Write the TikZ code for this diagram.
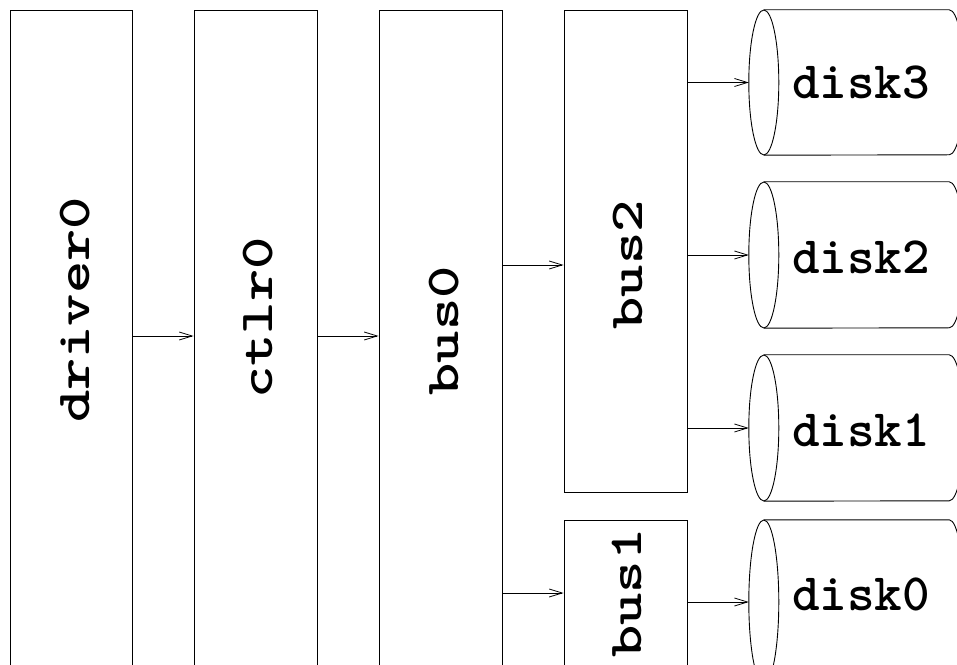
\documentclass[tikz,border=0pt]{standalone}
\usepackage{fontspec}
\usepackage{graphicx}
\usetikzlibrary{arrows.meta}
\newcommand\drawdisk[2]{%
  \draw[outline] (#1.north west) -- (#1.north east)
    arc[start angle=90, end angle=-90, x radius=15pt, y radius=#2pt] -- (#1.south west);
  \draw[outline] (#1.west) ellipse [x radius=15pt, y radius=#2pt];
}
\newcommand\heavytt{\fontsize{52.5}{52.5}\selectfont\ttfamily\bfseries\addfontfeature{FakeBold=1.2}}
\begin{document}
\begin{tikzpicture}[x=1pt,y=1pt,
  outline/.style={line width=0.9pt, black},
  box/.style={draw, outline, rectangle, inner sep=0pt, minimum width=123pt},
  body/.style={rectangle, inner sep=0pt, minimum width=185pt},
  vlabel/.style={rotate=90, inner sep=0pt, font=\heavytt},
  dlabel/.style={inner sep=0pt, font=\heavytt},
  arr/.style={line width=0.8pt, -{Straight Barb[length=13pt,width=8pt,line width=0.8pt]}}
]
\useasboundingbox (0,0) rectangle (957,664);
\clip (0,0) rectangle (957,664);

% boxes
\node[box, minimum width=122pt, minimum height=710pt] (driver0) at (71,299) {};
\node[box, minimum height=710pt] (ctlr0) at (255.5,299) {};
\node[box, minimum height=710pt] (bus0) at (440.5,299) {};
\node[box, minimum height=482pt] (bus2) at (625.5,413) {};
\node[box, minimum height=200pt] (bus1) at (625.5,44) {};

% box labels
\node[vlabel] (driver0-t) at (75,354) {\scalebox{1.17}[0.9]{driver0}};
\node[vlabel] (ctlr0-t) at (258,346) {\scalebox{1.17}[0.9]{ctlr0}};
\node[vlabel] (bus0-t) at (444,333) {\scalebox{1.17}[0.9]{bus0}};
\node[vlabel] (bus2-t) at (628,399) {\scalebox{1.17}[0.9]{bus2}};
\node[vlabel] (bus1-t) at (627,71) {\scalebox{1.17}[0.9]{bus1}};

% disks
\node[body, minimum height=145pt] (disk3) at (856.5,581.5) {};
\node[body, minimum height=146pt] (disk2) at (856.5,409) {};
\node[body, minimum height=146pt] (disk1) at (856.5,236) {};
\node[body, minimum height=164pt] (disk0) at (856.5,62) {};
\drawdisk{disk3}{72.5}
\drawdisk{disk2}{73}
\drawdisk{disk1}{73}
\drawdisk{disk0}{82}

\node[dlabel] (disk3-t) at (861,582) {disk3};
\node[dlabel] (disk2-t) at (861,406.5) {disk2};
\node[dlabel] (disk1-t) at (861,234) {disk1};
\node[dlabel] (disk0-t) at (861,70) {disk0};

% connectors
\coordinate (r1) at (0,328);
\draw[arr] (driver0.east |- r1) -- (ctlr0.west |- r1);
\draw[arr] (ctlr0.east |- r1) -- (bus0.west |- r1);
\draw[arr] (bus0.east |- bus2-t) -- (bus2.west |- bus2-t);
\draw[arr] (bus0.east |- bus1-t) -- (bus1.west |- bus1-t);
\draw[arr] (bus2.east |- disk3) -- ([xshift=-15pt]disk3.west);
\draw[arr] (bus2.east |- disk2) -- ([xshift=-15pt]disk2.west);
\draw[arr] (bus2.east |- disk1) -- ([xshift=-15pt]disk1.west);
\draw[arr] (bus1.east |- disk0) -- ([xshift=-15pt]disk0.west);
\end{tikzpicture}
\end{document}
